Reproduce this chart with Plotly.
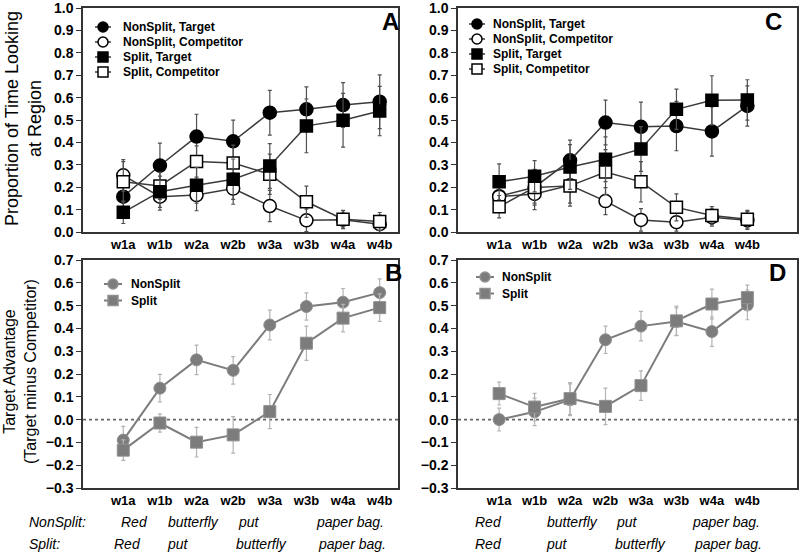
import plotly.graph_objects as go

categories = ["w1a", "w1b", "w2a", "w2b", "w3a", "w3b", "w4a", "w4b"]

# Panel A (proportions)
A_ns_target = [0.158, 0.297, 0.426, 0.405, 0.533, 0.548, 0.567, 0.582]
A_ns_target_err = [0.07, 0.10, 0.10, 0.095, 0.10, 0.10, 0.10, 0.12]
A_ns_comp = [0.253, 0.158, 0.165, 0.194, 0.116, 0.052, 0.055, 0.035]
A_ns_comp_err = [0.07, 0.06, 0.07, 0.07, 0.07, 0.05, 0.04, 0.04]
A_s_target = [0.088, 0.180, 0.209, 0.236, 0.295, 0.474, 0.499, 0.540]
A_s_target_err = [0.05, 0.07, 0.08, 0.09, 0.10, 0.12, 0.12, 0.11]
A_s_comp = [0.224, 0.206, 0.315, 0.308, 0.258, 0.135, 0.057, 0.047]
A_s_comp_err = [0.09, 0.06, 0.07, 0.08, 0.09, 0.07, 0.04, 0.04]

# Panel C (proportions)
C_ns_target = [0.160, 0.200, 0.320, 0.489, 0.470, 0.473, 0.449, 0.563]
C_ns_target_err = [0.07, 0.08, 0.09, 0.10, 0.11, 0.11, 0.11, 0.09]
C_ns_comp = [0.158, 0.170, 0.209, 0.138, 0.054, 0.044, 0.066, 0.052]
C_ns_comp_err = [0.06, 0.07, 0.08, 0.06, 0.05, 0.04, 0.04, 0.04]
C_s_target = [0.224, 0.249, 0.290, 0.325, 0.371, 0.548, 0.588, 0.590]
C_s_target_err = [0.08, 0.07, 0.10, 0.10, 0.10, 0.09, 0.11, 0.09]
C_s_comp = [0.113, 0.199, 0.206, 0.268, 0.224, 0.110, 0.074, 0.057]
C_s_comp_err = [0.05, 0.07, 0.09, 0.10, 0.09, 0.06, 0.04, 0.04]

# Panel B (target advantage)
B_ns = [-0.090, 0.138, 0.262, 0.216, 0.415, 0.496, 0.515, 0.557]
B_ns_err = [0.06, 0.06, 0.065, 0.06, 0.065, 0.06, 0.06, 0.06]
B_s = [-0.134, -0.015, -0.099, -0.067, 0.035, 0.335, 0.445, 0.491]
B_s_err = [0.045, 0.04, 0.065, 0.08, 0.075, 0.075, 0.06, 0.06]

# Panel D (target advantage)
D_ns = [0.000, 0.034, 0.087, 0.350, 0.410, 0.430, 0.386, 0.503]
D_ns_err = [0.05, 0.06, 0.07, 0.06, 0.065, 0.06, 0.065, 0.065]
D_s = [0.114, 0.055, 0.092, 0.058, 0.149, 0.433, 0.507, 0.535]
D_s_err = [0.05, 0.06, 0.07, 0.08, 0.065, 0.065, 0.065, 0.055]

top_legend_labels = ["NonSplit, Target", "NonSplit, Competitor", "Split, Target", "Split, Competitor"]
bottom_legend_labels = ["NonSplit", "Split"]
row_labels = ["NonSplit:", "Split:"]
left_nonsplit_words = ["Red", "butterfly", "put", "paper bag."]
left_split_words = ["Red", "put", "butterfly", "paper bag."]
right_nonsplit_words = ["Red", "butterfly", "put", "paper bag."]
right_split_words = ["Red", "put", "butterfly", "paper bag."]

W, H = 800, 552
def px(x):
    return x / W
def py(y):
    return 1 - y / H

fig = go.Figure()

FONT = "Liberation Sans, Arial, sans-serif"
LINE_DARK = "#3a3a3a"
ERR_DARK = "#505050"
GREY = "#7c7c7c"
ERR_LIGHT = "#b4b4b4"

def top_trace(y, err, symbol, filled, xa, ya):
    fig.add_trace(go.Scatter(
        x=categories, y=y, mode="lines+markers",
        xaxis=xa, yaxis=ya, showlegend=False,
        line=dict(color=LINE_DARK, width=1.5),
        marker=dict(symbol=symbol, size=12 if symbol == "square" else 13,
                    color="black" if filled else "white",
                    line=dict(color="black", width=1.5)),
        error_y=dict(type="data", array=err, color=ERR_DARK, thickness=1.2, width=2),
    ))

for xa, ya, d in [("x", "y", (A_ns_target, A_ns_target_err, A_ns_comp, A_ns_comp_err,
                             A_s_target, A_s_target_err, A_s_comp, A_s_comp_err)),
                  ("x3", "y3", (C_ns_target, C_ns_target_err, C_ns_comp, C_ns_comp_err,
                               C_s_target, C_s_target_err, C_s_comp, C_s_comp_err))]:
    top_trace(d[0], d[1], "circle", True, xa, ya)
    top_trace(d[2], d[3], "circle", False, xa, ya)
    top_trace(d[6], d[7], "square", False, xa, ya)
    top_trace(d[4], d[5], "square", True, xa, ya)

def bot_trace(y, err, symbol, xa, ya):
    fig.add_trace(go.Scatter(
        x=categories, y=y, mode="lines+markers",
        xaxis=xa, yaxis=ya, showlegend=False,
        line=dict(color=GREY, width=2),
        marker=dict(symbol=symbol, size=12,
                    color=GREY, line=dict(color="#909090", width=1)),
        error_y=dict(type="data", array=err, color=ERR_LIGHT, thickness=1.2, width=2),
    ))

bot_trace(B_ns, B_ns_err, "circle", "x2", "y2")
bot_trace(B_s, B_s_err, "square", "x2", "y2")
bot_trace(D_ns, D_ns_err, "circle", "x4", "y4")
bot_trace(D_s, D_s_err, "square", "x4", "y4")

shapes = []
for xa, ya in [("x2", "y2"), ("x4", "y4")]:
    shapes.append(dict(type="line", xref=xa + " domain", yref=ya, x0=0, x1=1, y0=0, y1=0,
                       line=dict(color="#666666", width=1.6, dash="dot"), layer="below"))

left_dom = [px(83), px(398)]
right_dom = [px(458), px(797)]
top_dom = [py(232), py(8)]
bot_dom = [py(488), py(260)]

xtickfont = dict(family=FONT, size=13, color="black", weight="bold")
ytickfont = dict(family=FONT, size=14, color="black", weight="bold")
common_x = dict(type="category", showline=True, linecolor="#333", linewidth=1.5, mirror=True,
                ticks="", tickfont=xtickfont, showgrid=False, zeroline=False, automargin=False)
common_y = dict(showline=True, linecolor="#333", linewidth=1.5, mirror=True, ticks="outside",
                ticklen=5, tickcolor="#333", tickfont=ytickfont, showgrid=False, zeroline=False,
                tickformat=".1f", automargin=False, tick0=0, ticklabeloverflow="allow")

fig.update_layout(
    width=W, height=H, margin=dict(l=0, r=0, t=0, b=0),
    paper_bgcolor="white", plot_bgcolor="white",
    font=dict(family=FONT, color="black"),
    showlegend=False,
    xaxis=dict(domain=left_dom, anchor="y", range=[-1.1, 7.5], **common_x),
    yaxis=dict(domain=top_dom, anchor="x", range=[0, 1.0005], dtick=0.1, **common_y),
    xaxis2=dict(domain=left_dom, anchor="y2", range=[-1.1, 7.5], **common_x),
    yaxis2=dict(domain=bot_dom, anchor="x2", range=[-0.3, 0.7], dtick=0.1, **common_y),
    xaxis3=dict(domain=right_dom, anchor="y3", range=[-1.16, 8.4], **common_x),
    yaxis3=dict(domain=top_dom, anchor="x3", range=[0, 1.0005], dtick=0.1, **common_y),
    xaxis4=dict(domain=right_dom, anchor="y4", range=[-1.16, 8.4], **common_x),
    yaxis4=dict(domain=bot_dom, anchor="x4", range=[-0.3, 0.7], dtick=0.1, **common_y),
)

ann = []
def add_text(text, x, y, size, xanchor="center", bold=False, italic=False, angle=0, family=FONT):
    t = text
    if bold:
        t = "<b>%s</b>" % t
    if italic:
        t = "<i>%s</i>" % t
    ann.append(dict(text=t, x=px(x), y=py(y), xref="paper", yref="paper",
                    xanchor=xanchor, yanchor="middle", showarrow=False, textangle=angle,
                    font=dict(family=family, size=size, color="black")))

# axis titles
add_text("Proportion of Time Looking<br>at Region", 24, 119, 18, angle=-90)
add_text("Target Advantage<br>(Target minus Competitor)", 20, 372, 16, angle=-90)

# panel letters
for letter, x, y in [("A", 390, 21), ("C", 773, 22), ("B", 393, 272), ("D", 777, 272)]:
    add_text(letter, x, y, 24, bold=True)

def marker_shape(cx, cy, kind, fill, edge, size):
    h = size / 2.0
    return dict(type="circle" if kind == "circle" else "rect", xref="paper", yref="paper",
                xsizemode="pixel", ysizemode="pixel", xanchor=px(cx), yanchor=py(cy),
                x0=-h, x1=h, y0=-h, y1=h, fillcolor=fill, line=dict(color=edge, width=1.5))

top_styles = [("circle", "black"), ("circle", "white"), ("rect", "black"), ("rect", "white")]
for base_x, base_y, text_x in [(103, 27, 121), (477, 24, 491)]:
    for i, (t, (kind, fill)) in enumerate(zip(top_legend_labels, top_styles)):
        yy = base_y + i * 15
        shapes.append(dict(type="line", xref="paper", yref="paper", x0=px(base_x - 8), x1=px(base_x + 8),
                           y0=py(yy), y1=py(yy), line=dict(color=LINE_DARK, width=1.5)))
        shapes.append(marker_shape(base_x, yy, kind, fill, "black", 10))
        add_text(t, text_x, yy, 12, xanchor="left", bold=True)

bot_styles = ["circle", "rect"]
for base_x, base_y, text_x in [(113, 284, 129), (485, 277, 500)]:
    for i, (t, kind) in enumerate(zip(bottom_legend_labels, bot_styles)):
        yy = base_y + i * 16.5
        shapes.append(dict(type="line", xref="paper", yref="paper", x0=px(base_x - 9), x1=px(base_x + 9),
                           y0=py(yy), y1=py(yy), line=dict(color=GREY, width=2)))
        shapes.append(marker_shape(base_x, yy, kind, GREY, "#909090", 10))
        add_text(t, text_x, yy, 12, xanchor="left", bold=True)

# sentence rows under the panels
row_y = [522, 544]
for lbl, yy in zip(row_labels, row_y):
    add_text(lbl, 27, yy, 14, xanchor="left", italic=True)

word_sets = [
    (left_nonsplit_words, [134, 193, 249, 350], row_y[0]),
    (left_split_words, [127, 178, 261, 352], row_y[1]),
    (right_nonsplit_words, [488, 572, 627, 726], row_y[0]),
    (right_split_words, [488, 557, 640, 728], row_y[1]),
]
for words, xs, yy in word_sets:
    for w, xx in zip(words, xs):
        add_text(w, xx, yy, 14, italic=True)

fig.update_layout(annotations=ann, shapes=shapes)
fig.write_html("out.html", config={"displayModeBar": False},
               post_script="document.body.style.margin='0';document.body.style.overflow='hidden';")
